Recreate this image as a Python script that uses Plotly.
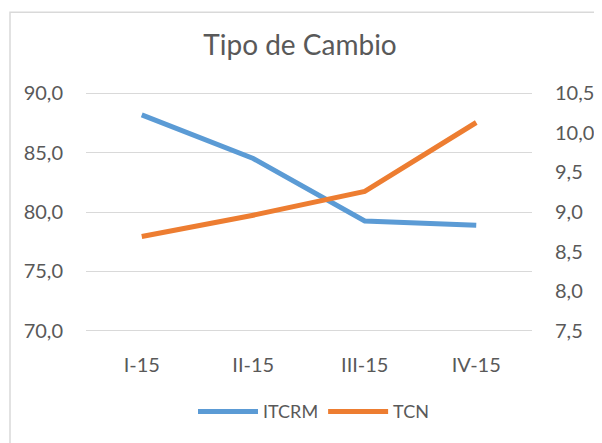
import plotly.graph_objects as go

categories = ["I-15", "II-15", "III-15", "IV-15"]
itcrm = [88.17, 84.5, 79.25, 78.89]
tcn = [8.69, 8.96, 9.26, 10.13]
left_ticks = [70, 75, 80, 85, 90]
right_ticks = [7.5, 8.0, 8.5, 9.0, 9.5, 10.0, 10.5]

FONT = "Lato, 'Open Sans', sans-serif"
GRAY = "#595959"

# page has an 8px body margin; figure is sized to fill the rest of the window
W, H = 594, 435
PL, PR, PT, PB = 78, 524, 85, 323       # pixel box of 70..90 in figure coords
EXT = 0.1                                # small range extension so edge gridlines show
ppu = (PB - PT) / 20.0
t_m = PT - EXT * ppu
b_m = H - (PB + EXT * ppu)
dom_top, dom_bot = t_m, H - b_m
dom_h = dom_bot - dom_top
dom_w = PR - PL


def px_x(x):
    return (x - PL) / dom_w


def px_y(y):
    return (dom_bot - y) / dom_h


fig = go.Figure()
fig.add_trace(go.Scatter(x=categories, y=itcrm, name="ITCRM", mode="lines",
                         line=dict(color="#5B9BD5", width=5)))
fig.add_trace(go.Scatter(x=categories, y=tcn, name="TCN", mode="lines", yaxis="y2",
                         line=dict(color="#ED7D31", width=5)))

fig.update_layout(
    width=W, height=H,
    margin=dict(l=PL, r=W - PR, t=t_m, b=b_m, autoexpand=False),
    paper_bgcolor="white", plot_bgcolor="white",
    font=dict(family=FONT, color=GRAY),
    title=dict(text="Tipo de Cambio", x=292 / W, xref="container", y=1 - 37 / H,
               yref="container", yanchor="middle", xanchor="center",
               font=dict(size=28, color=GRAY, family=FONT)),
    xaxis=dict(range=[-0.5, 3.5], showgrid=False, showline=False, zeroline=False,
               tickfont=dict(size=20, color=GRAY), ticklabelstandoff=19, automargin=False),
    yaxis=dict(range=[70 - EXT, 90 + EXT], tickvals=left_ticks,
               ticktext=[f"{v:.1f}".replace(".", ",") for v in left_ticks],
               showgrid=True, gridcolor="#D9D9D9", gridwidth=1.3, zeroline=False,
               tickfont=dict(size=20, color=GRAY), ticklabelstandoff=22, automargin=False),
    yaxis2=dict(range=[7.5 - EXT * 3 / 20, 10.5 + EXT * 3 / 20], tickvals=right_ticks,
                ticktext=[f"{v:.1f}".replace(".", ",") for v in right_ticks],
                overlaying="y", side="right", showgrid=False, zeroline=False,
                tickfont=dict(size=20, color=GRAY), ticklabelstandoff=22, automargin=False),
    showlegend=True,
    legend=dict(orientation="h", x=px_x(305.5), xanchor="center", y=px_y(404),
                yanchor="middle", font=dict(size=18, color=GRAY), itemwidth=60),
)

fig.add_shape(type="rect", xref="paper", yref="paper",
              x0=px_x(2), x1=px_x(700), y0=px_y(600), y1=px_y(4),
              line=dict(color="#D9D9D9", width=1.5), layer="below")

fig.write_html("out.html")
